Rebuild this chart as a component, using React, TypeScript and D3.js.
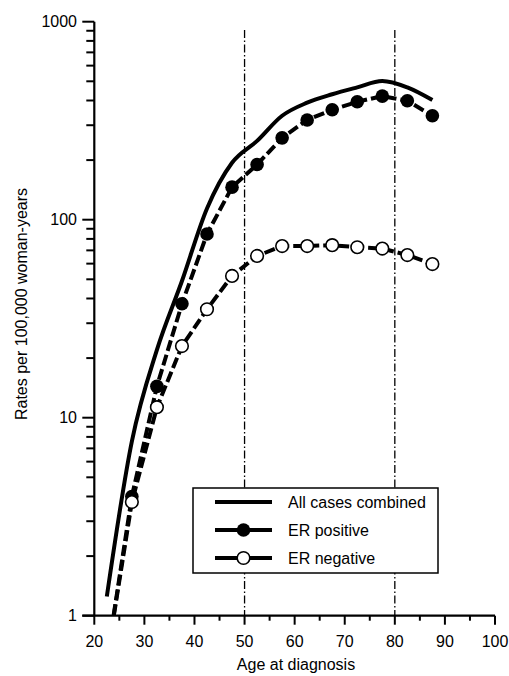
import React from "react";
import * as d3 from "d3";

const ages = [22.5, 27.5, 32.5, 37.5, 42.5, 47.5, 52.5, 57.5, 62.5, 67.5, 72.5, 77.5, 82.5, 87.5];
const allCases = [1.25, 7.6, 22, 49, 114, 194, 250, 335, 390, 430, 466, 502, 466, 402];
const erPositive = [0.6, 4.0, 14.4, 37.6, 84.7, 146, 190, 259, 319, 359, 394, 421, 399, 335];
const erNegative = [0.6, 3.75, 11.3, 23, 35.3, 52, 65.6, 73.6, 73.6, 74.4, 72.6, 71.5, 66.3, 59.7];
const xTicks = [20, 30, 40, 50, 60, 70, 80, 90, 100];
const xMinorTicks = [25, 35, 45, 55, 65, 75, 85, 95];
const yTicks = [1, 10, 100, 1000];
const refLines = [50, 80];
const legendLabels = ["All cases combined", "ER positive", "ER negative"];

const W = 509;
const H = 676;
const FONT = "'Liberation Sans', Arial, Helvetica, sans-serif";

export default function App() {
  const x = d3.scaleLinear().domain([20, 100]).range([94.3, 495]);
  const y = d3.scaleLog().domain([1, 1000]).range([615.7, 21.7]);

  const yMinor: number[] = [];
  [1, 10, 100].forEach((d) => {
    for (let k = 2; k <= 9; k++) yMinor.push(d * k);
  });

  const line = d3
    .line<[number, number]>()
    .x((d) => x(d[0]))
    .y((d) => y(d[1]));
  const smoothLine = d3
    .line<[number, number]>()
    .x((d) => x(d[0]))
    .y((d) => y(d[1]))
    .curve(d3.curveMonotoneX);

  const pts = (vals: number[]) => ages.map((a, i) => [a, vals[i]] as [number, number]);

  const x0 = x(20);
  const x1 = x(100);
  const yb = y(1);
  const yt = y(1000);

  const legend = { x: 193, y: 488, w: 245, h: 85 };
  const rows = [502, 530, 558];
  const sx0 = 215;
  const sx1 = 272;

  return (
    <svg
      width={W}
      height={H}
      style={{ position: "absolute", left: 0, top: 0, background: "#fff" }}
      fontFamily={FONT}
    >
      <defs>
        <clipPath id="plotclip">
          <rect x={x0} y={yt - 5} width={x1 - x0} height={yb - yt + 5} />
        </clipPath>
      </defs>
      <rect x={0} y={0} width={W} height={H} fill="#fff" />

      {refLines.map((r) => (
        <line
          key={r}
          x1={x(r)}
          x2={x(r)}
          y1={30}
          y2={yb}
          stroke="#000"
          strokeWidth={1.3}
          strokeDasharray="8,2.5,1.5,2.5"
        />
      ))}

      <g clipPath="url(#plotclip)">
        <path d={smoothLine(pts(allCases)) || ""} fill="none" stroke="#000" strokeWidth={4} />
        <path
          d={line(pts(erPositive)) || ""}
          fill="none"
          stroke="#000"
          strokeWidth={4}
          strokeDasharray="11,4"
        />
        <path
          d={line(pts(erNegative)) || ""}
          fill="none"
          stroke="#000"
          strokeWidth={4}
          strokeDasharray="11,4"
        />
        {ages.map((a, i) =>
          erPositive[i] >= 1 ? (
            <circle key={"p" + i} cx={x(a)} cy={y(erPositive[i])} r={6.8} fill="#000" />
          ) : null
        )}
        {ages.map((a, i) =>
          erNegative[i] >= 1 ? (
            <circle
              key={"n" + i}
              cx={x(a)}
              cy={y(erNegative[i])}
              r={6.3}
              fill="#fff"
              stroke="#000"
              strokeWidth={1.6}
            />
          ) : null
        )}
      </g>

      <line x1={x0} x2={x0} y1={yt} y2={yb} stroke="#000" strokeWidth={2.2} />
      <line x1={x0 - 12} x2={x1} y1={yb} y2={yb} stroke="#000" strokeWidth={2.2} />
      {yTicks.map((t) => (
        <g key={"yt" + t}>
          <line x1={x0 - 12} x2={x0} y1={y(t)} y2={y(t)} stroke="#000" strokeWidth={2} />
          <text x={77} y={y(t) + 5.5} textAnchor="end" fontSize={16} fill="#000">
            {t}
          </text>
        </g>
      ))}
      {yMinor.map((t) => (
        <line key={"ym" + t} x1={x0 - 8} x2={x0} y1={y(t)} y2={y(t)} stroke="#000" strokeWidth={2} />
      ))}
      {xTicks.map((t) => (
        <g key={"xt" + t}>
          <line x1={x(t)} x2={x(t)} y1={yb} y2={yb + 9} stroke="#000" strokeWidth={2} />
          <text x={x(t)} y={647} textAnchor="middle" fontSize={16} fill="#000">
            {t}
          </text>
        </g>
      ))}
      {xMinorTicks.map((t) => (
        <line key={"xm" + t} x1={x(t)} x2={x(t)} y1={yb} y2={yb + 5} stroke="#000" strokeWidth={2} />
      ))}

      <text x={296} y={670} textAnchor="middle" fontSize={16} fill="#000">
        Age at diagnosis
      </text>
      <text
        transform="translate(27,304) rotate(-90)"
        textAnchor="middle"
        fontSize={16}
        fill="#000"
      >
        Rates per 100,000 woman-years
      </text>

      <rect
        x={legend.x}
        y={legend.y}
        width={legend.w}
        height={legend.h}
        fill="#fff"
        stroke="#000"
        strokeWidth={1.5}
      />
      <line x1={sx0} x2={sx1} y1={rows[0]} y2={rows[0]} stroke="#000" strokeWidth={4} />
      <line x1={sx0} x2={sx1} y1={rows[1]} y2={rows[1]} stroke="#000" strokeWidth={4} />
      <circle cx={(sx0 + sx1) / 2} cy={rows[1]} r={6.8} fill="#000" />
      <line x1={sx0} x2={sx1} y1={rows[2]} y2={rows[2]} stroke="#000" strokeWidth={4} />
      <circle cx={(sx0 + sx1) / 2} cy={rows[2]} r={6.3} fill="#fff" stroke="#000" strokeWidth={1.6} />
      {legendLabels.map((l, i) => (
        <text key={l} x={288} y={rows[i] + 5.5} fontSize={16} fill="#000">
          {l}
        </text>
      ))}
    </svg>
  );
}
